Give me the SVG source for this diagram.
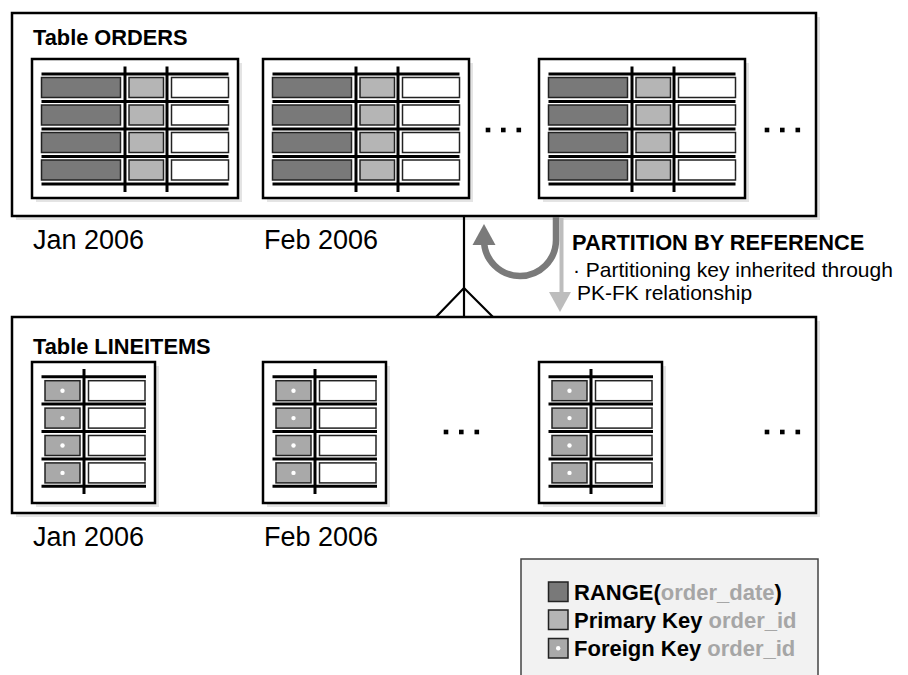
<svg xmlns="http://www.w3.org/2000/svg" xmlns:xlink="http://www.w3.org/1999/xlink" width="908" height="675" viewBox="0 0 908 675">
<style>
  text { font-family: "Liberation Sans", Arial, Helvetica, sans-serif; fill: #000; }
  .title { font-weight: bold; font-size: 21.8px; }
  .month { font-size: 27px; }
  .head { font-weight: bold; font-size: 21.8px; }
  .note { font-size: 21px; }
  .leg { font-weight: bold; font-size: 22px; }
  .leg .g { fill: #a6a6a6; }
  .outer { fill: #fff; stroke: #000; stroke-width: 2.5; }
  .shadow { fill: #e4e4e4; }
  .pbox { fill: #fff; stroke: #000; stroke-width: 2.5; }
  .rule { stroke: #000; stroke-width: 3; }
  .dark { fill: #797979; stroke: #222; stroke-width: 1.5; }
  .light { fill: #b5b5b5; stroke: #222; stroke-width: 1.5; }
  .fk { fill: #a9a9a9; stroke: #222; stroke-width: 1.5; }
  .white { fill: #fff; stroke: #222; stroke-width: 1.5; }
  .dot { fill: #000; }
  .conn { stroke: #000; stroke-width: 2.2; fill: none; }
</style>
<defs>
  <g id="orderPart">
    <rect class="shadow" x="4" y="4" width="206" height="139"/>
    <rect class="pbox" x="0" y="0" width="206" height="139"/>
    <g class="dark">
      <rect x="9.5" y="18.5" width="79" height="20"/>
      <rect x="9.5" y="46" width="79" height="20"/>
      <rect x="9.5" y="73.5" width="79" height="20"/>
      <rect x="9.5" y="101" width="79" height="20"/>
    </g>
    <g class="light">
      <rect x="97" y="18.5" width="34.5" height="20"/>
      <rect x="97" y="46" width="34.5" height="20"/>
      <rect x="97" y="73.5" width="34.5" height="20"/>
      <rect x="97" y="101" width="34.5" height="20"/>
    </g>
    <g class="white">
      <rect x="139.5" y="18.5" width="57" height="20"/>
      <rect x="139.5" y="46" width="57" height="20"/>
      <rect x="139.5" y="73.5" width="57" height="20"/>
      <rect x="139.5" y="101" width="57" height="20"/>
    </g>
    <g class="rule">
      <line x1="9.5" y1="15" x2="196.5" y2="15"/>
      <line x1="9.5" y1="42.5" x2="196.5" y2="42.5"/>
      <line x1="9.5" y1="70" x2="196.5" y2="70"/>
      <line x1="9.5" y1="97.5" x2="196.5" y2="97.5"/>
      <line x1="9.5" y1="125" x2="196.5" y2="125"/>
      <line x1="93" y1="7.5" x2="93" y2="133"/>
      <line x1="135" y1="7.5" x2="135" y2="133"/>
    </g>
  </g>
  <g id="linePart">
    <rect class="shadow" x="4" y="4" width="123" height="141"/>
    <rect class="pbox" x="0" y="0" width="123" height="141"/>
    <g class="fk">
      <rect x="13" y="18.7" width="35" height="20"/>
      <rect x="13" y="46.1" width="35" height="20"/>
      <rect x="13" y="73.5" width="35" height="20"/>
      <rect x="13" y="100.9" width="35" height="20"/>
    </g>
    <g fill="#fff">
      <circle cx="30.5" cy="28.7" r="2.2"/>
      <circle cx="30.5" cy="56.1" r="2.2"/>
      <circle cx="30.5" cy="83.5" r="2.2"/>
      <circle cx="30.5" cy="110.9" r="2.2"/>
    </g>
    <g class="white">
      <rect x="56.5" y="18.7" width="56.5" height="20"/>
      <rect x="56.5" y="46.1" width="56.5" height="20"/>
      <rect x="56.5" y="73.5" width="56.5" height="20"/>
      <rect x="56.5" y="100.9" width="56.5" height="20"/>
    </g>
    <g class="rule">
      <line x1="9.5" y1="14.7" x2="114" y2="14.7"/>
      <line x1="9.5" y1="42.1" x2="114" y2="42.1"/>
      <line x1="9.5" y1="69.5" x2="114" y2="69.5"/>
      <line x1="9.5" y1="96.9" x2="114" y2="96.9"/>
      <line x1="9.5" y1="124.3" x2="114" y2="124.3"/>
      <line x1="52" y1="7" x2="52" y2="132"/>
    </g>
  </g>
  <g id="dots">
    <rect x="-2.3" y="-2.3" width="4.6" height="4.6"/>
    <rect x="13" y="-2.3" width="4.6" height="4.6"/>
    <rect x="28.5" y="-2.3" width="4.6" height="4.6"/>
  </g>
</defs>

<rect width="908" height="675" fill="#fff"/>

<g id="orders">
  <rect class="shadow" x="16" y="17" width="804" height="203"/>
  <rect class="outer" x="12" y="13" width="804" height="203"/>
  <text class="title" x="33" y="45">Table ORDERS</text>
  <use xlink:href="#orderPart" x="32" y="59"/>
  <use xlink:href="#orderPart" x="263" y="59"/>
  <use xlink:href="#orderPart" x="539" y="59"/>
  <use xlink:href="#dots" x="488" y="130" class="dot"/>
  <use xlink:href="#dots" x="767" y="130" class="dot"/>
</g>

<g id="orders-labels">
  <text class="month" x="33" y="249">Jan 2006</text>
  <text class="month" x="264" y="249">Feb 2006</text>
</g>

<g id="lineitems">
  <rect class="shadow" x="16" y="321" width="804" height="196"/>
  <rect class="outer" x="12" y="317" width="804" height="196"/>
  <text class="title" x="33" y="354">Table LINEITEMS</text>
  <use xlink:href="#linePart" x="32" y="362"/>
  <use xlink:href="#linePart" x="263" y="362"/>
  <use xlink:href="#linePart" x="539" y="362"/>
  <use xlink:href="#dots" x="446" y="432" class="dot"/>
  <use xlink:href="#dots" x="767" y="432" class="dot"/>
</g>

<g id="lineitems-labels">
  <text class="month" x="33" y="546">Jan 2006</text>
  <text class="month" x="264" y="546">Feb 2006</text>
</g>

<g id="connectors">
  <line class="conn" x1="464" y1="217" x2="464" y2="317"/>
  <polyline class="conn" points="436,317 464,288 493,317"/>
  <line x1="561.5" y1="217" x2="561.5" y2="294" stroke="#bdbdbd" stroke-width="4"/>
  <polygon points="549,292 571,292 560,312" fill="#bdbdbd"/>
  <path d="M556 217 L556 240 A36 36 0 0 1 484 240 L484 244" fill="none" stroke="#7a7a7a" stroke-width="6.5"/>
  <polygon points="484,224 472.5,245 495.5,245" fill="#7a7a7a"/>
</g>

<g id="partition-note">
  <text class="head" x="572" y="250">PARTITION BY REFERENCE</text>
  <text class="note" x="573" y="277">· Partitioning key inherited through</text>
  <text class="note" x="577" y="300">PK-FK relationship</text>
</g>

<g id="legend">
  <rect x="521" y="559" width="297" height="130" fill="#f2f2f2" stroke="#444" stroke-width="1.5"/>
  <rect class="dark" x="548.5" y="582" width="19.5" height="19.5"/>
  <rect class="light" x="548.5" y="610" width="19.5" height="19.5"/>
  <rect class="fk" x="548.5" y="638.5" width="19.5" height="19.5"/>
  <circle cx="558.2" cy="648.2" r="2.2" fill="#fff"/>
  <text class="leg" x="574" y="600">RANGE(<tspan class="g">order_date</tspan>)</text>
  <text class="leg" x="574" y="628">Primary Key <tspan class="g">order_id</tspan></text>
  <text class="leg" x="574" y="656">Foreign Key <tspan class="g">order_id</tspan></text>
</g>
</svg>
